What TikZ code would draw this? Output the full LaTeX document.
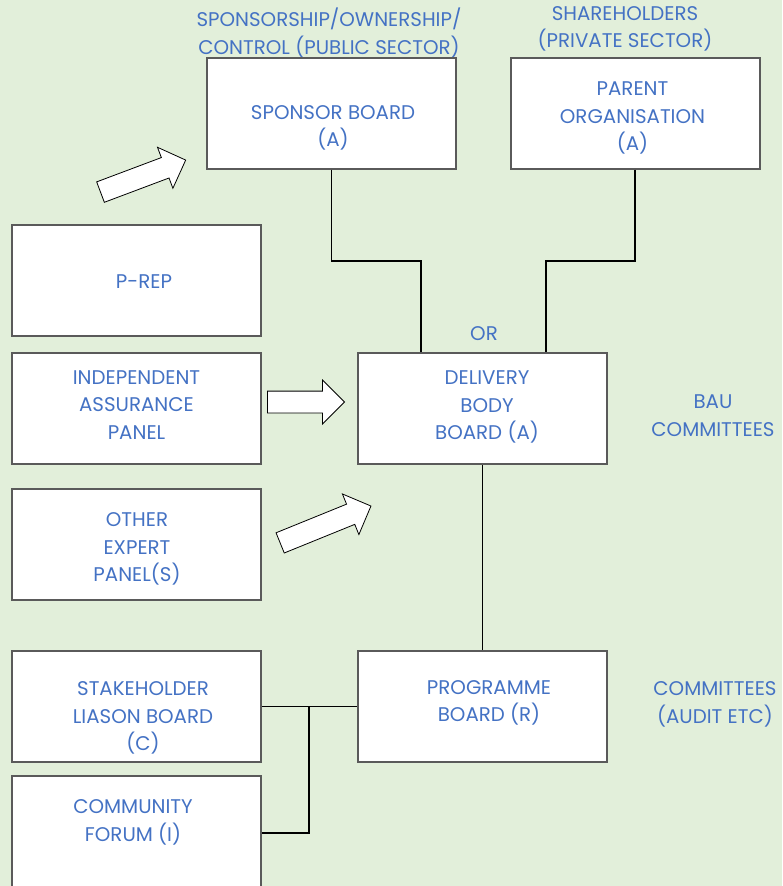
\documentclass[tikz,border=0pt]{standalone}
\usepackage{fontspec}
\setmainfont{Poppins}
\usetikzlibrary{shapes.arrows}
\definecolor{bggreen}{HTML}{E2EFDA}
\definecolor{txtblue}{HTML}{4472C4}
\definecolor{boxgray}{HTML}{5A5A5A}

\begin{document}
\begin{tikzpicture}[x=1pt,y=-1pt,
	box/.style={draw=boxgray,line width=2pt,fill=white,minimum width=249pt,minimum height=111pt},
	lbl/.style={text=txtblue,align=center,inner sep=0pt,yshift=-2pt,font=\fontsize{19.8}{27.5}\selectfont},
	blockarrow/.style={single arrow,draw=black,fill=white,line width=0.8pt,inner sep=10.5pt,single arrow head extend=11pt},
	link/.style={draw=black,line width=1.4pt}]
	\fill[bggreen] (0,0) rectangle (782,886);
	\useasboundingbox (0,0) rectangle (782,886);
	\node[lbl] (sponsorhead) at (329,31) {SPONSORSHIP/OWNERSHIP/\\CONTROL (PUBLIC SECTOR)};
	\node[lbl] (sharehead) at (625,27) {SHAREHOLDERS\\(PRIVATE SECTOR)};
	\node[box] (sponsor) at (331.5,113) {};
	\node[lbl] (sponsortxt) at (333,126) {SPONSOR BOARD\\(A)};
	\node[box] (parent) at (635,113) {};
	\node[lbl] (parenttxt) at (632.5,116) {PARENT\\ORGANISATION\\(A)};
	\node[box] (prep) at (136.5,280.5) {};
	\node[lbl] (preptxt) at (144,280) {P-REP};
	\node[box] (indep) at (136.5,408) {};
	\node[lbl] (indeptxt) at (136.5,403) {INDEPENDENT\\ASSURANCE\\PANEL};
	\node[box] (other) at (136.5,544.5) {};
	\node[lbl] (othertxt) at (137,547) {OTHER\\EXPERT\\PANEL(S)};
	\node[box] (delivery) at (482.5,408.5) {};
	\node[lbl] (deliverytxt) at (487,405) {DELIVERY\\BODY\\BOARD (A)};
	\node[lbl] (ortxt) at (484,332) {OR};
	\node[lbl] (bauhead) at (713,413.5) {BAU\\COMMITTEES};
	\node[box] (stake) at (136.5,706.5) {};
	\node[lbl] (staketxt) at (143,716) {STAKEHOLDER\\LIASON BOARD\\(C)};
	\node[box] (programme) at (482.5,706.5) {};
	\node[lbl] (programmetxt) at (489,701) {PROGRAMME\\BOARD (R)};
	\node[lbl] (commhead) at (715,702.5) {COMMITTEES\\(AUDIT ETC)};
	\node[box,minimum height=114pt] (community) at (136.5,833) {};
	\node[lbl] (communitytxt) at (133,820.5) {COMMUNITY\\FORUM (I)};
	\node[blockarrow,minimum height=91pt,rotate=20.6] (arrtop) at (138,178) {};
	\node[blockarrow,minimum height=77pt] (arrmid) at (300.5,402) {};
	\node[blockarrow,minimum height=98pt,rotate=22.1] (arrlow) at (320.5,526.5) {};
	\coordinate (sj) at (421,261);
	\coordinate (pj) at (546,261);
	\coordinate (cj) at (309,706.5);
	\draw[link] (sponsor.south) |- (sj) -- (sj |- delivery.north);
	\draw[link] (parent.south) |- (pj) -- (pj |- delivery.north);
	\draw[link] (delivery.south) -- (programme.north);
	\draw[link] (stake.east) -- (programme.west);
	\draw[link] (community.east) -| (cj);
\end{tikzpicture}
\end{document}
